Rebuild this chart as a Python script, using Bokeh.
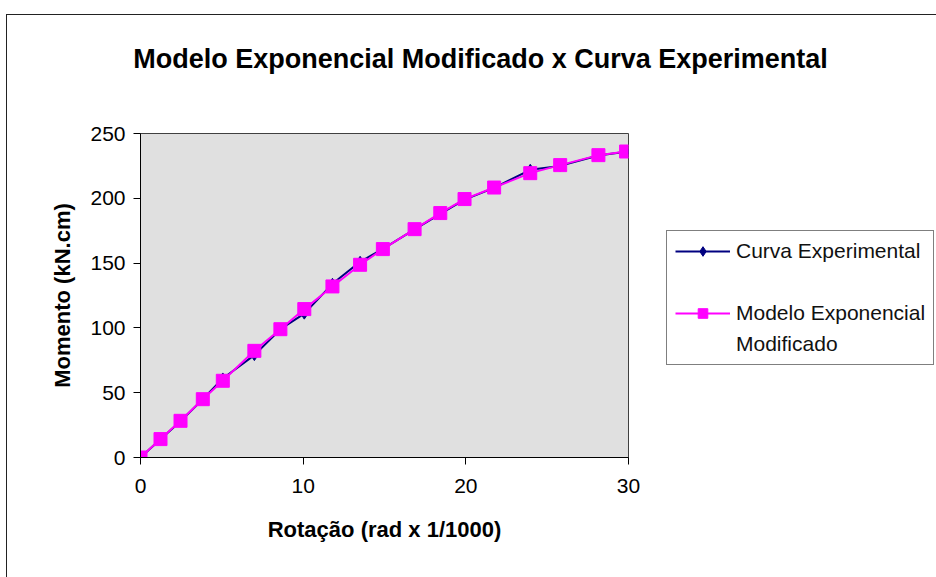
from bokeh.plotting import figure
from bokeh.layouts import column, row
from bokeh.models import Legend, LegendItem, Range1d, FixedTicker, Label
from bokeh.embed import file_html
from bokeh.resources import INLINE

# Rotation (rad x 1/1000) and moment (kN.cm)
rotacao = [0, 1.23, 2.46, 3.83, 5.06, 7.0, 8.6, 10.07, 11.8, 13.5, 14.9,
           16.85, 18.43, 19.92, 21.74, 23.96, 25.8, 28.15, 29.85]
momento_exp = [0, 14, 28, 45, 61, 79, 99, 111, 134, 151, 161,
               176, 188, 199, 208, 222, 225, 233, 236]
momento_mod = [0, 14.2, 28.3, 45, 59.2, 82.3, 99, 114.5, 132, 148.7, 160.8,
               176.2, 188.6, 199.4, 208.3, 219.4, 225.6, 233.3, 236.1]

x_ticks = [0, 10, 20, 30]
y_ticks = [0, 50, 100, 150, 200, 250]

titulo = "Modelo Exponencial Modificado x Curva Experimental"
rotulo_x = "Rotação (rad x 1/1000)"
rotulo_y = "Momento (kN.cm)"
serie_exp = "Curva Experimental"
serie_mod = "Modelo Exponencial"
serie_mod2 = "Modificado"

FONT = "Liberation Sans"
COR_EXP = "#000080"
COR_MOD = "#FF00FF"

W, H = 936, 577
TOP_H = 100            # height of the title strip
MAIN_W = 650           # width of the plot part
FL, FR, FT, FB = 140, 628, 133, 457


def blank_figure(width, height):
    f = figure(width=width, height=height, output_backend="svg",
               toolbar_location=None, x_axis_type=None, y_axis_type=None,
               x_range=Range1d(0, 1), y_range=Range1d(0, 1),
               min_border=0)
    f.background_fill_alpha = 0
    f.border_fill_alpha = 0
    f.outline_line_color = None
    f.xgrid.visible = False
    f.ygrid.visible = False
    return f


# --- title strip ---
t = blank_figure(W, TOP_H)
t.add_layout(Label(x=480, y=TOP_H - 58, x_units="screen", y_units="screen",
                   text=titulo, text_font=FONT, text_font_size="27px",
                   text_font_style="bold", text_color="black",
                   text_align="center", text_baseline="middle"))

# --- plot area ---
p = figure(width=MAIN_W, height=H - TOP_H, output_backend="svg",
           toolbar_location=None,
           x_range=Range1d(0, 30), y_range=Range1d(0, 250),
           min_border_left=FL, min_border_right=MAIN_W - FR,
           min_border_top=FT - TOP_H, min_border_bottom=H - FB)
p.background_fill_color = "#E0E0E0"
p.border_fill_alpha = 0
p.outline_line_color = "#404040"
p.outline_line_width = 1
p.xgrid.visible = False
p.ygrid.visible = False

for ax in (p.xaxis[0], p.yaxis[0]):
    ax.axis_line_color = "black"
    ax.major_tick_line_color = "black"
    ax.major_tick_in = 0
    ax.major_tick_out = 7
    ax.minor_tick_line_color = None
    ax.major_label_text_font = FONT
    ax.major_label_text_font_size = "21px"
    ax.major_label_text_color = "black"
    ax.axis_label_text_font = FONT
    ax.axis_label_text_font_size = "22px"
    ax.axis_label_text_font_style = "bold"
    ax.axis_label_text_color = "black"

p.xaxis.ticker = FixedTicker(ticks=x_ticks)
p.yaxis.ticker = FixedTicker(ticks=y_ticks)
p.xaxis.axis_label = rotulo_x
p.yaxis.axis_label = rotulo_y
p.xaxis.major_label_standoff = 14
p.yaxis.major_label_standoff = 8
p.xaxis.axis_label_standoff = 21
p.yaxis.axis_label_standoff = 12

p.line(rotacao, momento_exp, line_color=COR_EXP, line_width=2)
p.scatter(rotacao, momento_exp, marker="diamond", size=11,
          fill_color=COR_EXP, line_color=COR_EXP)
p.line(rotacao, momento_mod, line_color=COR_MOD, line_width=2)
p.scatter(rotacao, momento_mod, marker="square", size=13,
          fill_color=COR_MOD, line_color=COR_MOD)

# --- legend panel ---
# key renderers hold a single point outside the (hidden) range so that only
# their legend glyphs are drawn
lg = blank_figure(W - MAIN_W, H - TOP_H)
fora = [-5]
k_exp_l = lg.line(fora, fora, line_color=COR_EXP, line_width=2)
k_exp_m = lg.scatter(fora, fora, marker="diamond", size=11,
                     fill_color=COR_EXP, line_color=COR_EXP)
k_mod_l = lg.line(fora, fora, line_color=COR_MOD, line_width=2)
k_mod_m = lg.scatter(fora, fora, marker="square", size=13,
                     fill_color=COR_MOD, line_color=COR_MOD)
k_vazio = lg.line(fora, fora, line_alpha=0)

legend = Legend(items=[LegendItem(label=serie_exp, renderers=[k_exp_l, k_exp_m]),
                       LegendItem(label=" ", renderers=[k_vazio]),
                       LegendItem(label=serie_mod, renderers=[k_mod_l, k_mod_m]),
                       LegendItem(label=serie_mod2, renderers=[k_vazio])],
                location=(666 - MAIN_W, 92), orientation="vertical",
                border_line_color="black", border_line_width=1,
                background_fill_color="white", background_fill_alpha=1,
                padding=8, margin=0, spacing=7, glyph_width=55,
                glyph_height=24, label_height=24, label_standoff=6,
                label_text_font=FONT, label_text_font_size="21px",
                label_text_color="#111111")
lg.add_layout(legend)

layout = column(t, row(p, lg, spacing=0), spacing=0)
# white page with the chart-area frame lines (left and top edges)
layout.styles = {
    "background-color": "white",
    "background-image": "linear-gradient(#222, #222), linear-gradient(#222, #222)",
    "background-position": "6px 14px, 6px 14px",
    "background-size": "1px 100%, 100% 1px",
    "background-repeat": "no-repeat, no-repeat",
}

open("out.html", "w").write(file_html(layout, INLINE))
